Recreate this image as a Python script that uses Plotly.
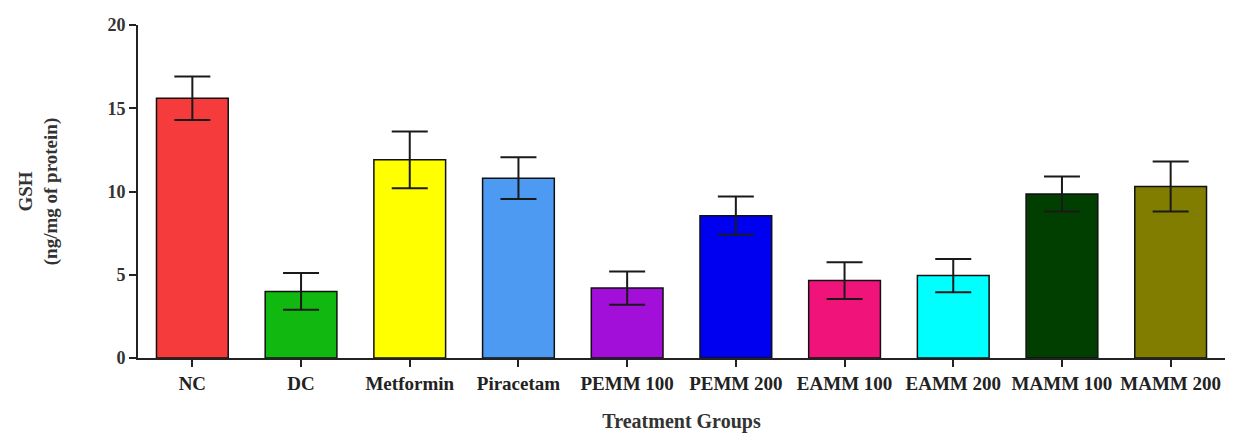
import plotly.graph_objects as go

groups = ["NC", "DC", "Metformin", "Piracetam", "PEMM 100", "PEMM 200",
          "EAMM 100", "EAMM 200", "MAMM 100", "MAMM 200"]
gsh_mean = [15.6, 4.0, 11.9, 10.8, 4.2, 8.55, 4.65, 4.95, 9.85, 10.3]
gsh_err = [1.3, 1.1, 1.7, 1.25, 1.0, 1.15, 1.1, 1.0, 1.05, 1.5]
bar_colors = ["#f53b3b", "#10b810", "#ffff00", "#4d9af2", "#a20fd8", "#0000f0",
              "#f0147a", "#00ffff", "#003f00", "#807d00"]
y_ticks = [0, 5, 10, 15, 20]

font_family = "Liberation Serif, Times New Roman, serif"

fig = go.Figure(go.Bar(
    x=groups, y=gsh_mean,
    marker=dict(color=bar_colors, line=dict(color="#111111", width=1.5)),
    width=0.66,
    error_y=dict(type="data", array=gsh_err, visible=True, color="#1a1a1a",
                 thickness=2, width=18),
))

fig.update_layout(
    width=1228, height=425,
    margin=dict(l=130, r=11, t=17, b=75, autoexpand=False),
    paper_bgcolor="white", plot_bgcolor="white",
    font=dict(family=font_family, color="#222222"),
    showlegend=False,
)
fig.update_xaxes(
    range=[-0.5, 9.5], automargin=False,
    showline=True, linecolor="#222222", linewidth=2,
    ticks="outside", ticklen=7, tickwidth=2, tickcolor="#222222",
    tickfont=dict(family=font_family, size=19, color="#222222", weight="bold"),
    title=dict(text="<b>Treatment Groups</b>", font=dict(family=font_family, size=20, color="#333333"),
               standoff=26),
    showgrid=False,
)
fig.update_yaxes(
    range=[0, 20], tickvals=y_ticks, automargin=False,
    showline=True, linecolor="#222222", linewidth=2,
    ticks="outside", ticklen=7, tickwidth=2, tickcolor="#222222",
    tickfont=dict(family=font_family, size=18, color="#333333", weight="bold"),
    title=dict(text="<b>GSH<br>(ng/mg of protein)</b>", font=dict(family=font_family, size=19, color="#333333"),
               standoff=45),
    showgrid=False, zeroline=False,
)

fig.write_html("out.html")
